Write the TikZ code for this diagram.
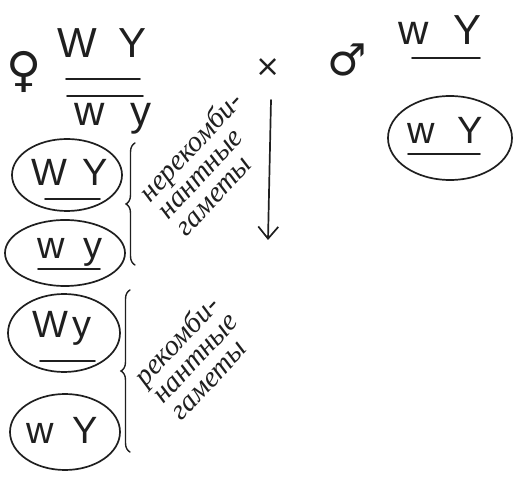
\documentclass[tikz,border=0pt]{standalone}
\usepackage{fontspec}
\setmainfont{Liberation Serif}
\newfontfamily\symfont{DejaVu Sans}
\newfontfamily\genefont{Liberation Sans}
\usetikzlibrary{shapes.geometric,decorations.pathreplacing,arrows.meta}
\begin{document}
\begin{tikzpicture}[x=1pt,y=-1pt,
  pen/.style={draw=black!88,line width=1.7pt,line cap=round},
  gene/.style={font=\genefont\fontsize{42}{42}\selectfont,text=black!88,inner sep=0pt},
  sgene/.style={font=\genefont\fontsize{38}{38}\selectfont,text=black!88,inner sep=0pt},
  gamete/.style={pen,ellipse,inner sep=0pt},
  note/.style={font=\itshape\fontsize{29}{25}\selectfont,text=black!88,align=left,rotate=47,inner sep=0pt},
  bracestyle/.style={pen,line width=1.4pt,decorate,decoration={brace,amplitude=9pt}},
  sym/.style={font=\symfont,text=black!88,inner sep=0pt}]
\useasboundingbox (0,0) rectangle (517,478);
% female genotype
\node[sym,font=\symfont\fontsize{48}{48}\selectfont] (fem) at (24,72) {♀};
\node[gene] (ftop) at (102,43) {W\hspace{0.5em}Y};
\draw[pen] (66,79) -- (140,79);
\draw[pen] (67,96) -- (143,96);
\node[gene] (fbot) at (113,119) {w\hspace{0.6em}y};
% cross
\node[sym,font=\symfont\fontsize{30}{30}\selectfont] (cross) at (268,68) {×};
% male genotype
\node[sym,font=\symfont\fontsize{44}{44}\selectfont] (male) at (347,60) {♂};
\node[gene] (mtop) at (440,30) {w\hspace{0.6em}Y};
\draw[pen] (412,58) -- (480,58);
% male gamete
\node[gamete,minimum width=124pt,minimum height=84pt] (mg) at (450,138) {};
\node[sgene] (mgt) at (445,130) {w\hspace{0.6em}Y};
\draw[pen] (408,154) -- (480,154);
% female gametes
\node[gamete,minimum width=110pt,minimum height=72pt] (g1) at (67,175) {};
\node[sgene] (g1t) at (70,172) {W\hspace{0.4em}Y};
\draw[pen] (45,199) -- (100,199);
\node[gamete,minimum width=120pt,minimum height=66pt] (g2) at (65,253) {};
\node[sgene] (g2t) at (70,252) {w\hspace{0.5em}y};
\draw[pen] (38,269) -- (100,269);
\node[gamete,minimum width=112pt,minimum height=78pt] (g3) at (64,333) {};
\node[sgene] (g3t) at (62,328) {W\hspace{0.1em}y};
\draw[pen] (40,361) -- (95,361);
\node[gamete,minimum width=110pt,minimum height=76pt] (g4) at (65,432) {};
\node[sgene] (g4t) at (62,430) {w\hspace{0.5em}Y};
% braces
\draw[bracestyle] (135,265) -- (135,143);
\draw[bracestyle] (130,452) -- (130,290);
% notes
\node[note] (n1) at (208,163) {нерекомби-\\нантные\\гаметы};
\node[note] (n2) at (194,357) {рекомби-\\нантные\\гаметы};
% arrow
\coordinate (a1) at (271,100);
\coordinate (a2) at (268,240);
\draw[pen,-{Straight Barb[length=12pt,width=20pt]}] (a1) -- (a2);
\end{tikzpicture}
\end{document}
